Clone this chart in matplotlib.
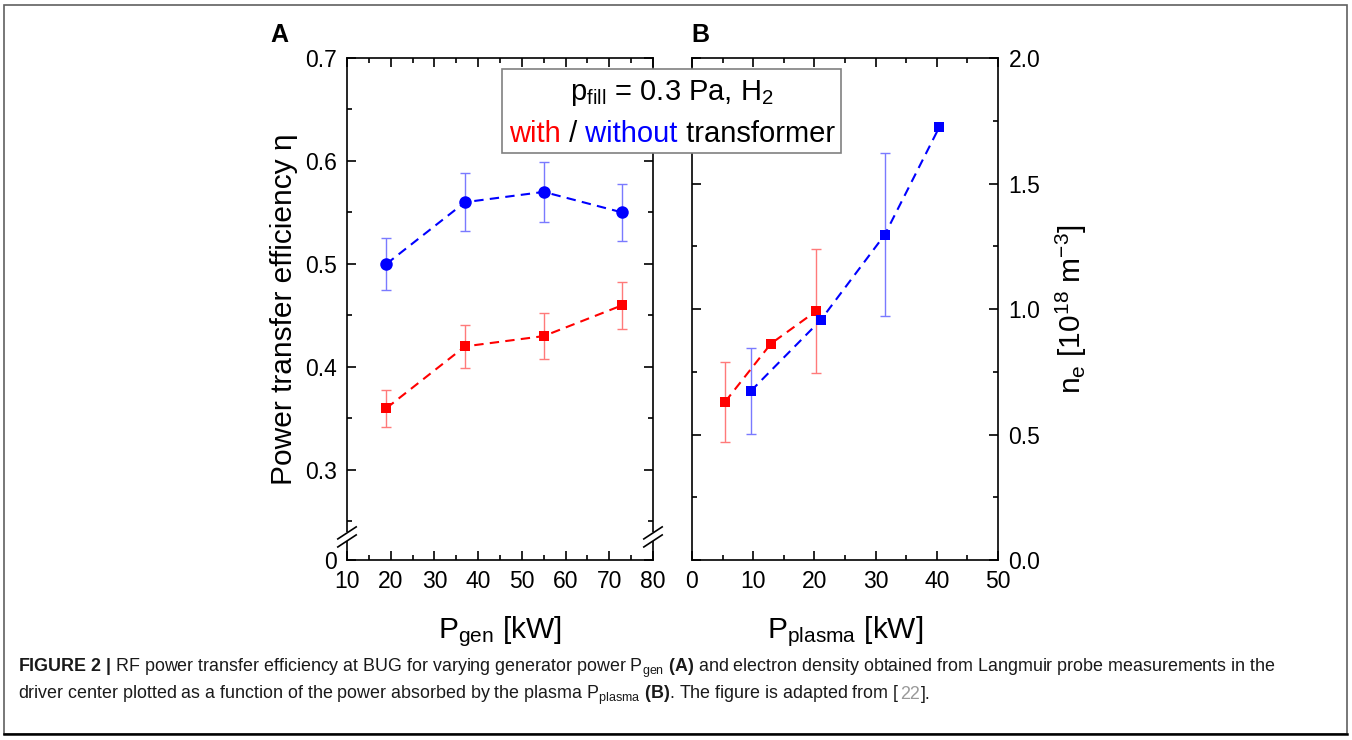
import numpy as np
import matplotlib
matplotlib.use("Agg")
import matplotlib.pyplot as plt
from matplotlib.patches import Rectangle
from matplotlib.lines import Line2D
from matplotlib.ticker import FixedLocator, MultipleLocator, FormatStrFormatter
from matplotlib.text import Annotation

plt.rcParams['font.family'] = ['Liberation Sans', 'DejaVu Sans']
plt.rcParams['mathtext.fontset'] = 'custom'
plt.rcParams['mathtext.rm'] = 'Liberation Sans'
plt.rcParams['mathtext.it'] = 'Liberation Sans:italic'
plt.rcParams['mathtext.bf'] = 'Liberation Sans:bold'

# ---------------- data ----------------
# Panel A: power transfer efficiency vs generator power
pgen_with = [19, 37, 55, 73]
eta_with = [0.360, 0.420, 0.430, 0.460]
eta_with_err = [0.018, 0.021, 0.022, 0.023]

pgen_without = [19, 37, 55, 73]
eta_without = [0.500, 0.560, 0.570, 0.550]
eta_without_err = [0.025, 0.028, 0.029, 0.028]

# Panel B: electron density vs plasma power
pplasma_with = [5.4, 12.9, 20.3]
ne_with = [0.630, 0.862, 0.992]
ne_with_err = [0.159, None, 0.248]

pplasma_without = [9.6, 21.0, 31.5, 40.4]
ne_without = [0.673, 0.955, 1.296, 1.724]
ne_without_err = [0.170, None, 0.325, None]

xticksA = [10, 20, 30, 40, 50, 60, 70, 80]
yticksA = [0, 0.3, 0.4, 0.5, 0.6, 0.7]
yticklabelsA = ["0", "0.3", "0.4", "0.5", "0.6", "0.7"]
xticksB = [0, 10, 20, 30, 40, 50]
yticksB = [0.0, 0.5, 1.0, 1.5, 2.0]

RED = '#ff0000'
BLUE = '#0000ff'
RED_ERR = '#ff7a7a'
BLUE_ERR = '#7a7aff'

W, H = 1352, 740
fig = plt.figure(figsize=(W / 100, H / 100), dpi=100)


def px_axes(left, top, right, bottom):
    return fig.add_axes([left / W, (H - bottom) / H, (right - left) / W, (bottom - top) / H])


axA = px_axes(347, 58, 653, 560)
axB = px_axes(692, 58, 998, 560)

# broken y scale for panel A
BREAK = 0.235
SQUEEZE = 0.0953


def fwd(v):
    v = np.asarray(v, float)
    return np.where(v >= BREAK, v, BREAK - (BREAK - v) * SQUEEZE)


def inv(u):
    u = np.asarray(u, float)
    return np.where(u >= BREAK, u, BREAK - (BREAK - u) / SQUEEZE)


axA.set_yscale('function', functions=(fwd, inv))

DASH = (0, (4.5, 3))


def series(ax, x, y, err, color, ecolor, marker, ms):
    x = np.asarray(x, float)
    y = np.asarray(y, float)
    e = np.array([np.nan if v is None else v for v in err], float)
    m = np.isfinite(e)
    if m.any():
        ax.errorbar(x[m], y[m], yerr=e[m], fmt='none', ecolor=ecolor, elinewidth=1.0,
                    capsize=3.5, capthick=1.0, zorder=2)
    ax.plot(x, y, ls=DASH, color=color, lw=1.5, marker=marker, ms=ms,
            markeredgewidth=0, zorder=3)


series(axA, pgen_without, eta_without, eta_without_err, BLUE, BLUE_ERR, 'o', 9)
series(axA, pgen_with, eta_with, eta_with_err, RED, RED_ERR, 's', 7.5)
series(axB, pplasma_with, ne_with, ne_with_err, RED, RED_ERR, 's', 7.3)
series(axB, pplasma_without, ne_without, ne_without_err, BLUE, BLUE_ERR, 's', 7.3)

for ax in (axA, axB):
    for s in ax.spines.values():
        s.set_linewidth(1.2)
    ax.tick_params(which='both', direction='in', top=True, right=True, width=1.2,
                   labelsize=16.5, pad=7.5, colors='black')
    ax.tick_params(which='major', length=6.5)
    ax.tick_params(which='minor', length=3.8)

axA.set_xlim(10, 80)
axA.set_ylim(0, 0.7)
axA.xaxis.set_major_locator(FixedLocator(xticksA))
axA.xaxis.set_minor_locator(MultipleLocator(5))
axA.yaxis.set_major_locator(FixedLocator(yticksA))
axA.set_yticklabels(yticklabelsA)
axA.yaxis.set_minor_locator(FixedLocator([0.25, 0.35, 0.45, 0.55, 0.65]))
axA.set_xlabel('P$_{\\mathrm{gen}}$ [kW]', fontsize=21.5, labelpad=15)
axA.set_ylabel('Power transfer efficiency \u03b7', fontsize=21.5, labelpad=5)

axB.set_xlim(0, 50)
axB.set_ylim(0, 2.0)
axB.xaxis.set_major_locator(FixedLocator(xticksB))
axB.xaxis.set_minor_locator(MultipleLocator(5))
axB.yaxis.set_major_locator(FixedLocator(yticksB))
axB.yaxis.set_minor_locator(MultipleLocator(0.25))
axB.yaxis.set_major_formatter(FormatStrFormatter('%.1f'))
axB.tick_params(labelleft=False, labelright=True)
axB.yaxis.set_label_position('right')
axB.set_xlabel('P$_{\\mathrm{plasma}}$ [kW]', fontsize=21.5, labelpad=15)
axB.set_ylabel('n$_{\\mathrm{e}}$ [10$^{18}$ m$^{-3}$]', fontsize=21.5, labelpad=10)

# axis break marks on panel A
yb = axA.transAxes.inverted().transform(axA.transData.transform((15, BREAK)))[1]
for xs in (0.0, 1.0):
    axA.plot([xs, xs], [yb - 0.009, yb + 0.009], transform=axA.transAxes, color='white',
             lw=3, clip_on=False, zorder=5, solid_capstyle='butt')
    for off in (-0.008, 0.008):
        axA.plot([xs - 0.03, xs + 0.03], [yb + off - 0.012, yb + off + 0.012],
                 transform=axA.transAxes, color='black', lw=1.2, clip_on=False, zorder=6)

# panel letters
fig.text(270 / W, (H - 42) / H, 'A', fontsize=18, fontweight='bold', va='baseline')
fig.text(691 / W, (H - 42) / H, 'B', fontsize=18, fontweight='bold', va='baseline')

# annotation box
fig.patches.append(Rectangle((502 / W, (H - 153) / H), (841 - 502) / W, (153 - 69) / H,
                             transform=fig.transFigure, facecolor='white',
                             edgecolor='#808080', lw=1.2, zorder=1))
fig.text(672 / W, (H - 100) / H, 'p$_{\\mathrm{fill}}$ = 0.3 Pa, H$_2$', fontsize=21,
         ha='center', va='baseline', zorder=4)

pieces = [('with', RED), (' /', 'black'), (' without', BLUE), (' transformer', 'black')]
base2 = H - 142
first = fig.text(508 / W, base2 / H, pieces[0][0], color=pieces[0][1], fontsize=21,
                 va='baseline', zorder=4)
items = [first]
for s, c in pieces[1:]:
    a = fig.add_artist(Annotation(
        s, xy=(1, base2), xycoords=(items[-1], 'figure pixels'), color=c, fontsize=21,
        va='baseline', zorder=4))
    items.append(a)
fig.canvas.draw()
r = fig.canvas.get_renderer()
l0 = items[0].get_window_extent(r).x0
r0 = items[-1].get_window_extent(r).x1
shift = 672 - (l0 + r0) / 2
first.set_x((508 + shift) / W)

# caption
cap1 = (r'$\mathbf{FIGURE\ 2\ |}$ RF power transfer efficiency at BUG for varying generator '
        r'power P$_{\mathrm{gen}}$ $\mathbf{(A)}$ and electron density obtained from Langmuir '
        r'probe measurements in the')
cap2 = (r'driver center plotted as a function of the power absorbed by the plasma '
        r'P$_{\mathrm{plasma}}$ $\mathbf{(B)}$. The figure is adapted from [')
CAPC = '#1a1a1a'
CFS = 12.9
fig.text(18 / W, (H - 672) / H, cap1, fontsize=CFS, color=CAPC, va='baseline')
c2 = fig.text(18 / W, (H - 699) / H, cap2, fontsize=CFS, color=CAPC, va='baseline')
c3 = fig.add_artist(Annotation(
    '22', xy=(1, H - 699), xycoords=(c2, 'figure pixels'), xytext=(0.5, 0),
    textcoords='offset pixels', fontsize=CFS, color='#999999', va='baseline'))
fig.add_artist(Annotation(
    '].', xy=(1, H - 699), xycoords=(c3, 'figure pixels'), xytext=(1, 0),
    textcoords='offset pixels', fontsize=CFS, color=CAPC, va='baseline'))

# outer frame
fig.patches.append(Rectangle((4 / W, 6 / H), 1343 / W, 729 / H, transform=fig.transFigure,
                             fill=False, edgecolor='#606060', lw=1.2, zorder=0))
fig.add_artist(Line2D([4 / W, 1347 / W], [6 / H, 6 / H], transform=fig.transFigure,
                      color='black', lw=1.8))

fig.savefig('out.png', dpi=100)
